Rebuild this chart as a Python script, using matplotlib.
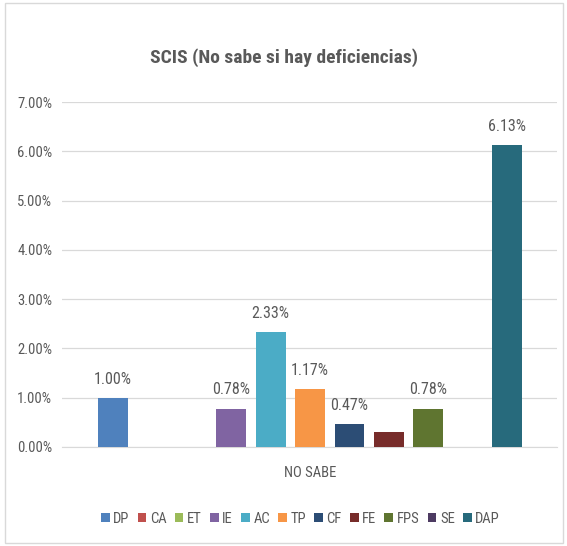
import matplotlib
matplotlib.use("Agg")
import matplotlib.pyplot as plt
from matplotlib.patches import Rectangle
from matplotlib.ticker import FuncFormatter
from matplotlib import font_manager

names = {f.name for f in font_manager.fontManager.ttflist}
main = 'Roboto'
for cand in ['Liberation Sans Narrow', 'Roboto Condensed', 'Open Sans Condensed', 'Roboto']:
    if cand in names:
        main = cand
        break
plt.rcParams['font.family'] = [main, 'DejaVu Sans']

title = "SCIS (No sabe si hay deficiencias)"
category = "NO SABE"
series = ["DP", "CA", "ET", "IE", "AC", "TP", "CF", "FE", "FPS", "SE", "DAP"]
values = [1.00, 0.0, 0.0, 0.78, 2.33, 1.17, 0.47, 0.31, 0.78, 0.0, 6.13]
labels = ["1.00%", "", "", "0.78%", "2.33%", "1.17%", "0.47%", "", "0.78%", "", "6.13%"]
colors = ["#4F81BD", "#C0504D", "#9BBB59", "#8064A2", "#4BACC6", "#F79646",
          "#2C4D75", "#772C2A", "#5F7530", "#4D3B62", "#276A7C"]
yticks = [0, 1, 2, 3, 4, 5, 6, 7]

fig = plt.figure(figsize=(5.67, 5.46), dpi=100)
ax = fig.add_axes([62/567, 99/546, 495/567, 345/546])

n = len(series)
center = 5.0
for i, (s, v, c, lab) in enumerate(zip(series, values, colors, labels)):
    x = center + (i - (n - 1) / 2)
    ax.bar(x, v, width=0.76, color=c, label=s, zorder=3)
    if lab:
        ax.annotate(lab, (x, v), xytext=(0, 8), textcoords='offset points',
                    ha='center', va='bottom', fontsize=11.5, color='#595959')

ax.set_xlim(-1.3, 11.27)
ax.set_ylim(0, 7)
ax.set_yticks(yticks)
ax.yaxis.set_major_formatter(FuncFormatter(lambda v, p: f"{v:.2f}%"))
ax.set_xticks([center])
ax.set_xticklabels([category])
ax.tick_params(axis='both', length=0, colors='#595959', labelsize=10.5)
ax.tick_params(axis='x', pad=14)
ax.tick_params(axis='y', pad=7)
ax.grid(axis='y', color='#D9D9D9', linewidth=0.9, zorder=0)
for sp in ['top', 'right', 'left']:
    ax.spines[sp].set_visible(False)
ax.spines['bottom'].set_color('#D9D9D9')

fig.text(0.5, 1 - 58/546, title, ha='center', va='center', fontsize=14,
         fontweight='bold', color='#595959')

leg = fig.legend(loc='center', bbox_to_anchor=(0.53, 1 - 519/546), ncol=11,
                 frameon=False, handlelength=0.6, handleheight=0.6,
                 handletextpad=0.25, columnspacing=0.55, fontsize=10.5)
for t in leg.get_texts():
    t.set_color('#595959')

fig.patches.append(Rectangle((0.008, 0.005), 0.985, 0.99, transform=fig.transFigure,
                             fill=False, edgecolor='#D9D9D9', linewidth=1))

fig.savefig("out.png", dpi=100)
